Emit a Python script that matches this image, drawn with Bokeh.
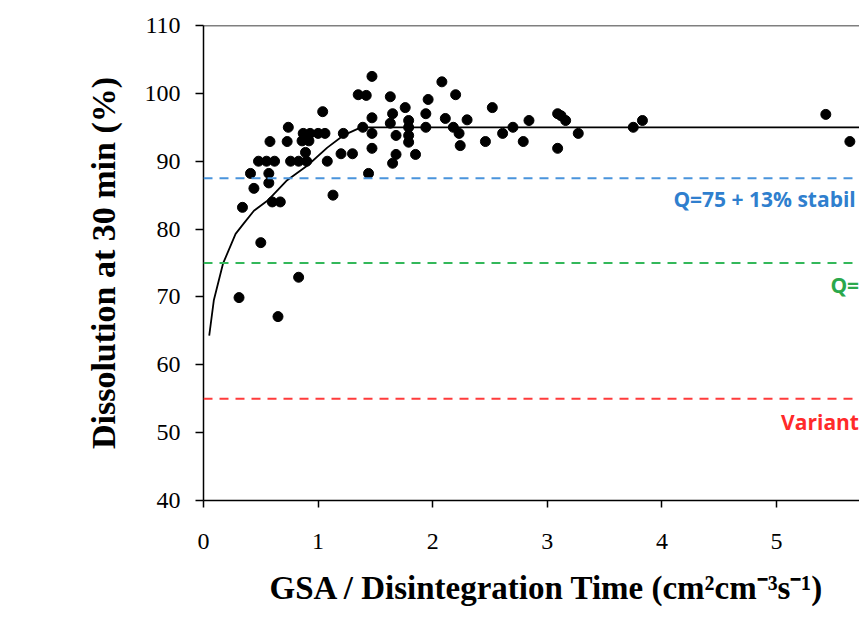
from bokeh.plotting import figure
from bokeh.models import Range1d, Span, FixedTicker, ColumnDataSource, Title
from bokeh.core.properties import value
from bokeh.embed import file_html
from bokeh.resources import INLINE

# ---- data ----
pts_x = [0.31, 0.34, 0.41, 0.44, 0.48, 0.50, 0.55, 0.57, 0.57, 0.58,
         0.60, 0.62, 0.65, 0.67, 0.73, 0.74, 0.76, 0.83, 0.83, 0.86,
         0.87, 0.89, 0.90, 0.92, 0.93, 1.00, 1.04, 1.06, 1.08, 1.13,
         1.20, 1.22, 1.30, 1.35, 1.39, 1.42, 1.44, 1.47, 1.47, 1.47,
         1.47, 1.63, 1.63, 1.65, 1.65, 1.68, 1.68, 1.76, 1.79, 1.79,
         1.79, 1.79, 1.85, 1.94, 1.94, 1.96, 2.08, 2.11, 2.18, 2.20,
         2.23, 2.24, 2.30, 2.46, 2.52, 2.61, 2.70, 2.79, 2.84, 3.09,
         3.12, 3.16, 3.09, 3.27, 3.75, 3.83, 5.43, 5.64]
pts_y = [69.9, 83.2, 88.2, 86.0, 90.0, 78.0, 90.0, 88.2, 86.8, 92.9,
         84.0, 90.0, 67.1, 84.0, 92.9, 95.0, 90.0, 90.0, 72.9, 93.0,
         94.1, 91.3, 90.0, 93.0, 94.1, 94.1, 97.3, 94.1, 90.0, 85.0,
         91.1, 94.1, 91.1, 99.8, 95.0, 99.7, 88.2, 102.5, 96.4, 94.1,
         91.9, 99.5, 95.6, 97.0, 89.7, 93.8, 91.0, 97.9, 96.0, 95.0,
         93.8, 92.8, 91.0, 97.0, 95.0, 99.1, 101.7, 96.3, 95.0, 99.8,
         94.1, 92.3, 96.1, 92.9, 97.9, 94.1, 95.0, 92.9, 96.0, 97.0,
         96.7, 96.0, 91.9, 94.1, 95.0, 96.0, 96.9, 92.9]

curve_x = [0.05, 0.09, 0.17, 0.28, 0.35, 0.44, 0.56, 0.73, 0.91, 1.08, 1.22, 1.35, 1.39, 5.80]
curve_y = [64.3, 69.5, 74.9, 79.3, 80.8, 82.7, 84.2, 87.2, 89.4, 92.0, 93.8, 94.8, 95.0, 95.0]

limit_levels = [87.5, 75.0, 55.0]
limit_colors = ["#4a94dc", "#33b85a", "#ff3b3b"]

label_text = ["Q=75 + 13% stabil", "Q=", "Variant"]
label_x = [4.10, 5.47, 5.04]
label_y = [84.5, 71.7, 51.6]
label_colors = ["#2f7fce", "#2aa84c", "#ff2a2a"]

x_ticks = [0, 1, 2, 3, 4, 5]
y_ticks = [40, 50, 60, 70, 80, 90, 100, 110]

x_title = "GSA / Disintegration Time (cm²cm⁻³s⁻¹)"
y_title = "Dissolution at 30 min (%)"

# ---- figure ----
p = figure(width=859, height=622, output_backend="svg", toolbar_location=None,
           x_range=Range1d(0, 5.724), y_range=Range1d(40, 110),
           min_border_left=203, min_border_right=0, min_border_top=25,
           min_border_bottom=122)
p.outline_line_color = None
p.grid.visible = False
p.background_fill_color = "white"
p.border_fill_color = "white"

for lv, col in zip(limit_levels, limit_colors):
    p.add_layout(Span(location=lv, dimension="width", line_color=col,
                      line_dash="9 7", line_width=2))

# top border of the box
p.add_layout(Span(location=110, dimension="width", line_color="black", line_width=1.5))

p.line(curve_x, curve_y, line_color="black", line_width=1.8)
p.scatter(pts_x, pts_y, size=10, marker="circle", fill_color="black", line_color="black")

src = ColumnDataSource(dict(x=label_x, y=label_y, t=label_text, c=label_colors))
p.text(x="x", y="y", text="t", text_color="c", source=src,
       text_font=value("Open Sans"), text_font_style="bold", text_font_size="21px",
       text_baseline="middle", text_align="left")

for ax in (p.xaxis[0], p.yaxis[0]):
    ax.axis_line_color = "black"
    ax.axis_line_width = 1.5
    ax.major_tick_line_color = "black"
    ax.major_tick_line_width = 1.5
    ax.major_tick_in = 0
    ax.minor_tick_line_color = None
    ax.major_label_text_font = "Liberation Serif"
    ax.major_label_text_font_size = "24px"
    ax.major_label_text_color = "black"
    ax.axis_label_text_font = "Liberation Serif"
    ax.axis_label_text_font_style = "bold"
    ax.axis_label_text_color = "black"

p.xaxis.ticker = FixedTicker(ticks=x_ticks)
p.yaxis.ticker = FixedTicker(ticks=y_ticks)
p.xaxis.major_tick_out = 7
p.yaxis.major_tick_out = 8
p.xaxis.major_label_standoff = 26
p.yaxis.major_label_standoff = 15
p.yaxis.axis_label = y_title
p.yaxis.axis_label_text_font_size = "34px"
p.yaxis.axis_label_standoff = 20

p.add_layout(Title(text=x_title, align="left", offset=66, standoff=33,
                   text_font="Liberation Serif", text_font_style="bold",
                   text_font_size="33px", text_color="black"), "below")

open("out.html", "w").write(file_html(p, INLINE))
